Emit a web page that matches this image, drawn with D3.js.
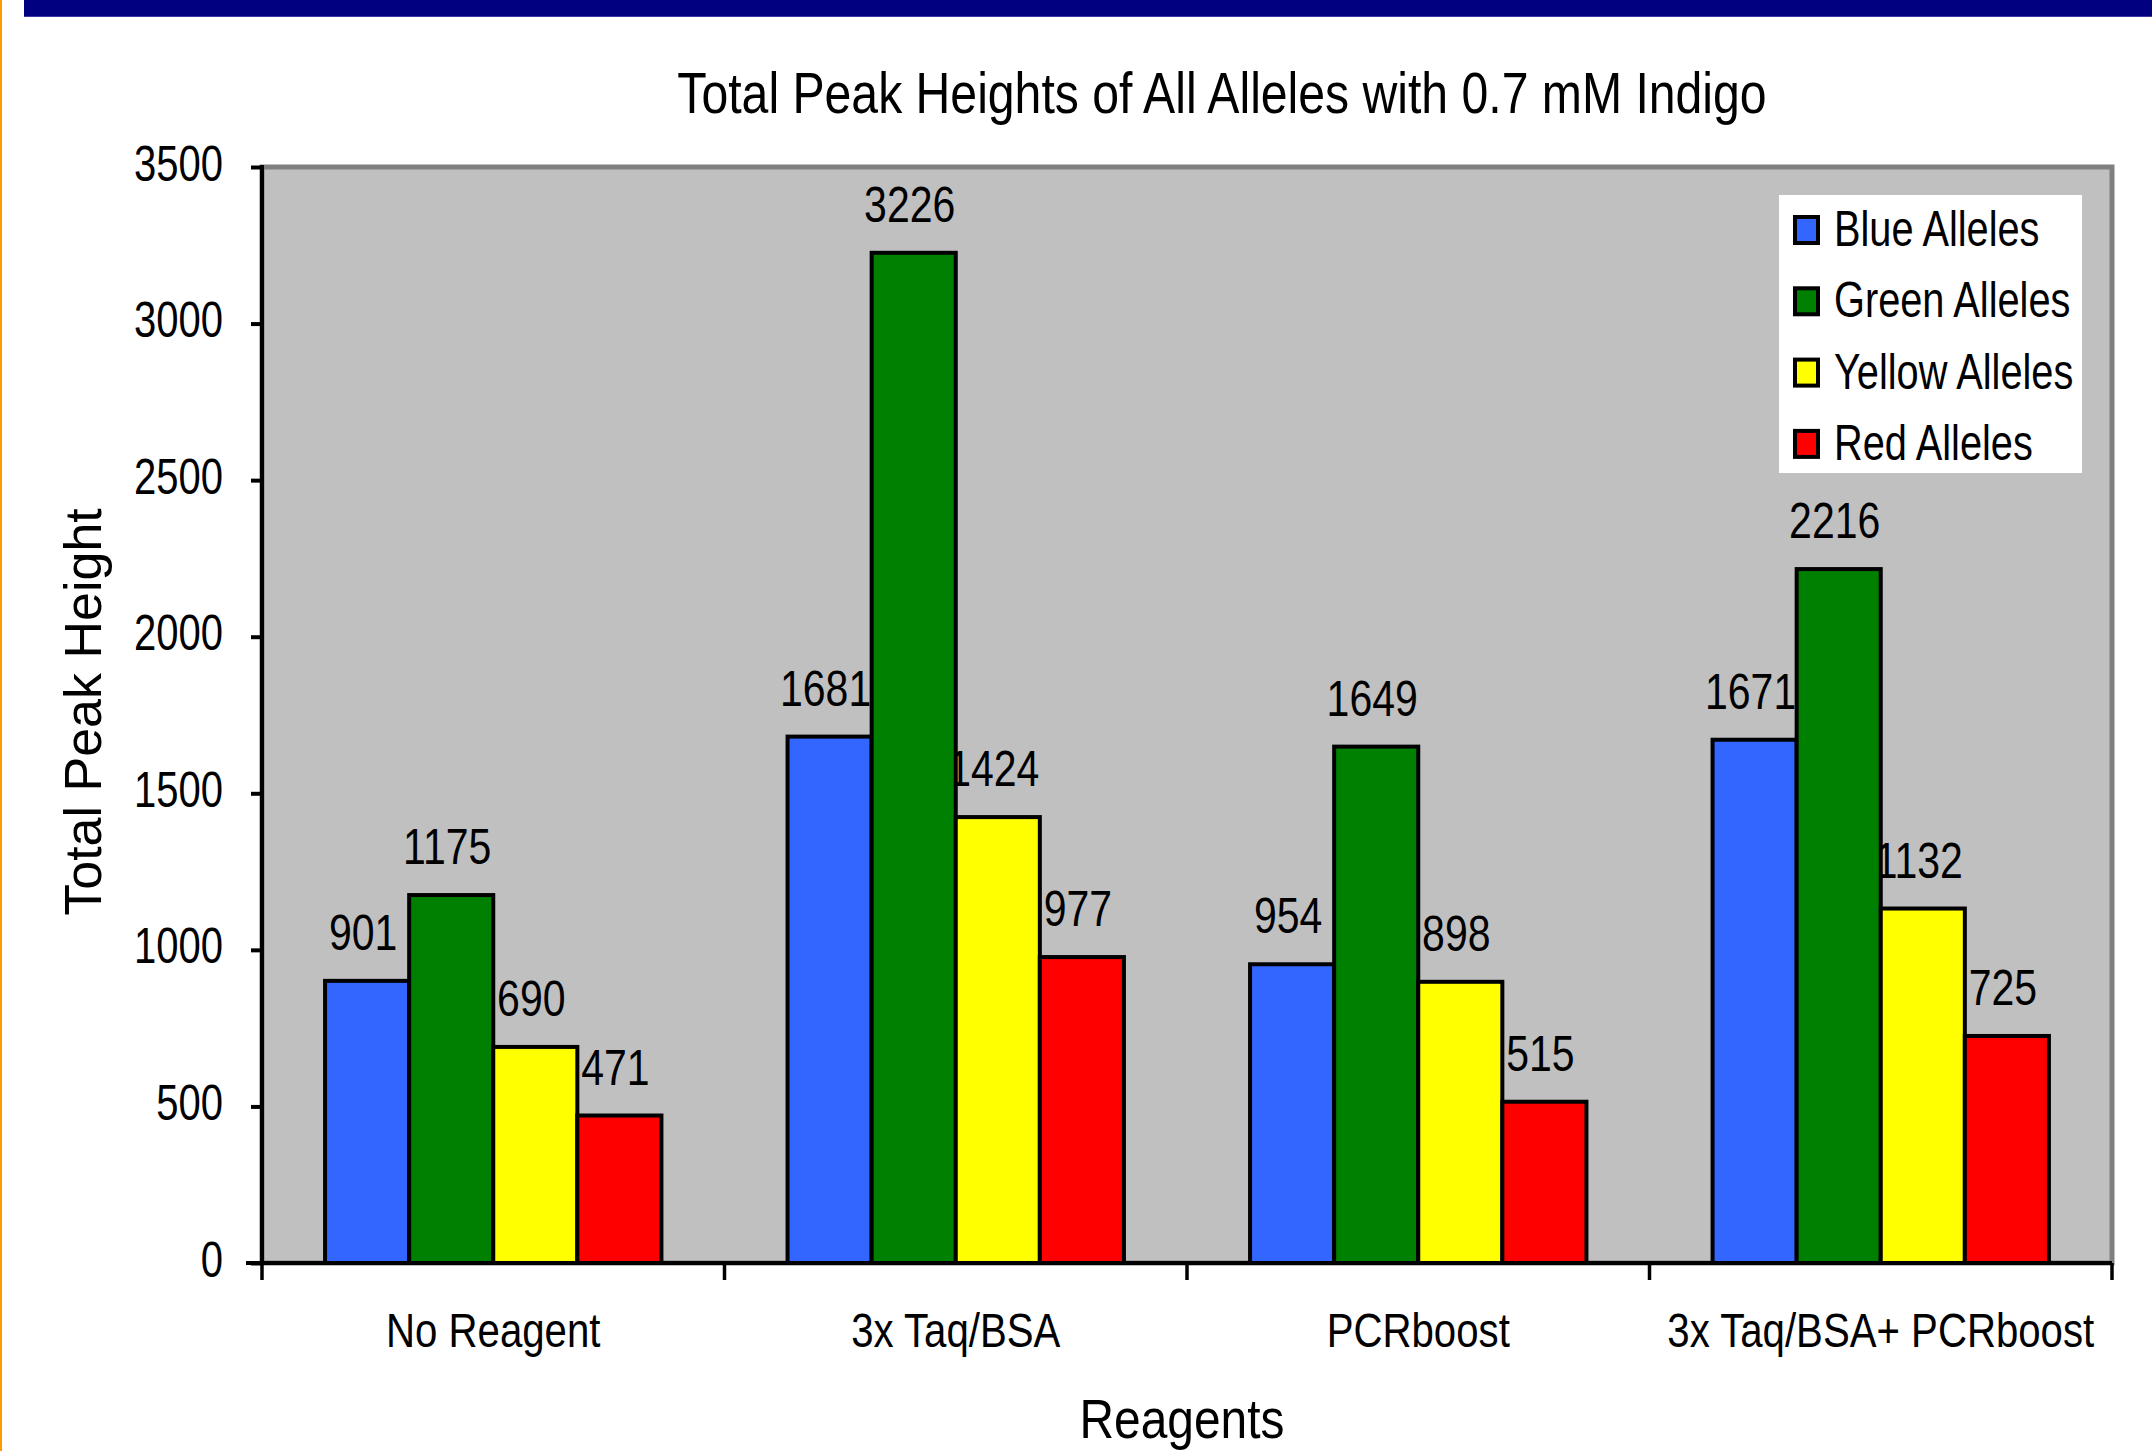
<!DOCTYPE html>
<html>
<head>
<meta charset="utf-8">
<script src="https://cdn.jsdelivr.net/npm/d3@7"></script>
<style>
  html, body { margin: 0; padding: 0; background: #ffffff; }
  svg { display: block; }
  text { font-family: "Liberation Sans", Arial, sans-serif; fill: #000; }
</style>
</head>
<body>
<svg id="chart" width="2152" height="1451"></svg>
<script>
// ---- data ----
const categories = ["No Reagent", "3x Taq/BSA", "PCRboost", "3x Taq/BSA+ PCRboost"];
const seriesNames = ["Blue Alleles", "Green Alleles", "Yellow Alleles", "Red Alleles"];
const blueValues   = [901, 1681, 954, 1671];
const greenValues  = [1175, 3226, 1649, 2216];
const yellowValues = [690, 1424, 898, 1132];
const redValues    = [471, 977, 515, 725];
const yTicks = [0, 500, 1000, 1500, 2000, 2500, 3000, 3500];
const chartTitle = "Total Peak Heights of All Alleles with 0.7 mM Indigo";
const xTitle = "Reagents";
const yTitle = "Total Peak Height";

// ---- styles ----
const colors = ["#3366FF", "#008000", "#FFFF00", "#FF0000"];
const seriesValues = [blueValues, greenValues, yellowValues, redValues];

const svg = d3.select("#chart");
const W = 2152, H = 1451;
const plot = { left: 262, right: 2112, top: 167, bottom: 1263 };

// page decorations
svg.append("rect").attr("x", 0).attr("y", 0).attr("width", W).attr("height", H).attr("fill", "#fff");
svg.append("rect").attr("x", 0).attr("y", 0).attr("width", 2).attr("height", H).attr("fill", "#FF9900");
svg.append("rect").attr("x", 24).attr("y", 0).attr("width", W - 24).attr("height", 17).attr("fill", "#000080");
svg.append("rect").attr("x", 24).attr("y", 16).attr("width", W - 24).attr("height", 1).attr("fill", "#3a3aa0");

// scales
const x0 = d3.scaleBand().domain(categories).range([plot.left, plot.right]).paddingInner(0).paddingOuter(0);
const x1 = d3.scaleBand().domain(seriesNames).range([0, x0.bandwidth()]).paddingInner(0).paddingOuter(0.75);
const y = d3.scaleLinear().domain([0, 3500]).range([plot.bottom, plot.top]);

// plot area
svg.append("rect")
  .attr("x", plot.left).attr("y", plot.top)
  .attr("width", plot.right - plot.left).attr("height", plot.bottom - plot.top)
  .attr("fill", "#C0C0C0").attr("stroke", "#808080").attr("stroke-width", 5);

// data rows
const rows = [];
seriesNames.forEach((s, si) => {
  categories.forEach((c, ci) => {
    rows.push({ series: s, si, category: c, value: seriesValues[si][ci] });
  });
});

// data labels (drawn before bars so neighbouring taller bars overlap them, as in the original)
svg.append("g").selectAll("text").data(rows).join("text")
  .attr("text-anchor", "middle")
  .attr("font-size", 50)
  .attr("transform", d => `translate(${x0(d.category) + x1(d.series) + x1.bandwidth() / 2 - 4},${y(d.value) - 31}) scale(0.82,1)`)
  .text(d => d.value);

// bars
svg.append("g").selectAll("rect").data(rows).join("rect")
  .attr("x", d => x0(d.category) + x1(d.series))
  .attr("y", d => y(d.value))
  .attr("width", x1.bandwidth())
  .attr("height", d => y(0) - y(d.value))
  .attr("fill", d => colors[d.si])
  .attr("stroke", "#000").attr("stroke-width", 4);

// y axis
const yAxis = d3.axisLeft(y).tickValues(yTicks).tickSize(11).tickSizeOuter(0).tickFormat(d3.format("d"));
const gy = svg.append("g").attr("transform", `translate(${plot.left},0)`).call(yAxis);
gy.select(".domain").remove();
gy.selectAll(".tick line").attr("stroke", "#000").attr("stroke-width", 4);
gy.selectAll(".tick text")
  .attr("x", null).attr("dy", null)
  .attr("font-size", 50).attr("font-family", "Liberation Sans, Arial, sans-serif")
  .attr("fill", "#000")
  .attr("text-anchor", "end")
  .attr("transform", "translate(-39,13) scale(0.8,1)");
svg.append("line")
  .attr("x1", plot.left).attr("x2", plot.left)
  .attr("y1", y(3500) - 2).attr("y2", y(0) + 2)
  .attr("stroke", "#000").attr("stroke-width", 4);

// x axis
svg.append("line")
  .attr("x1", plot.left - 16).attr("x2", plot.right)
  .attr("y1", y(0)).attr("y2", y(0))
  .attr("stroke", "#000").attr("stroke-width", 4);
const tickXs = categories.map(c => x0(c)).concat([x0(categories[categories.length - 1]) + x0.bandwidth()]);
svg.append("g").selectAll("line").data(tickXs).join("line")
  .attr("x1", d => d).attr("x2", d => d)
  .attr("y1", y(0)).attr("y2", y(0) + 17)
  .attr("stroke", "#000").attr("stroke-width", 3.5);
svg.append("g").selectAll("text").data(categories).join("text")
  .attr("text-anchor", "middle")
  .attr("font-size", 49)
  .attr("transform", c => `translate(${x0(c) + x0.bandwidth() / 2},1347) scale(0.82,1)`)
  .text(c => c);

// titles
svg.append("text")
  .attr("text-anchor", "middle").attr("font-size", 57)
  .attr("transform", "translate(1222,113) scale(0.845,1)")
  .text(chartTitle);
svg.append("text")
  .attr("text-anchor", "middle").attr("font-size", 56)
  .attr("transform", `translate(${(plot.left + plot.right) / 2 - 5},1438) scale(0.855,1)`)
  .text(xTitle);
svg.append("text")
  .attr("text-anchor", "middle").attr("font-size", 52)
  .attr("transform", `translate(101,${(plot.top + plot.bottom) / 2 - 3}) rotate(-90)`)
  .text(yTitle);

// legend
const lg = svg.append("g");
lg.append("rect").attr("x", 1779).attr("y", 195).attr("width", 303).attr("height", 278).attr("fill", "#fff");
const items = lg.selectAll("g.item").data(seriesNames).join("g").attr("class", "item")
  .attr("transform", (d, i) => `translate(1793,${215 + i * 71.3})`);
items.append("rect").attr("x", 2).attr("y", 2).attr("width", 23).attr("height", 26)
  .attr("fill", (d, i) => colors[i]).attr("stroke", "#000").attr("stroke-width", 4);
items.append("text")
  .attr("font-size", 50)
  .attr("transform", "translate(41,31) scale(0.795,1)")
  .text(d => d);
</script>
</body>
</html>
